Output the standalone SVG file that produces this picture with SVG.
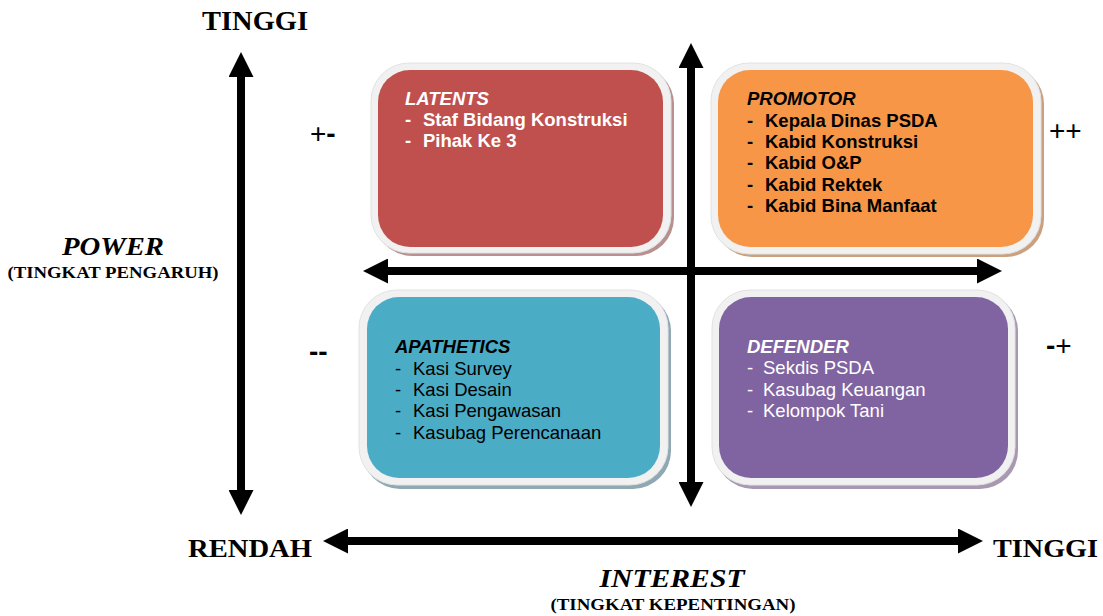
<svg xmlns="http://www.w3.org/2000/svg" width="1103" height="616" viewBox="0 0 1103 616">
  <style>
    .frame { fill: #f1f1f1; stroke: #e2e2e2; stroke-width: 1; }
    .box-title { font-family: "Liberation Sans", Arial, sans-serif; font-size: 18.5px; font-weight: bold; font-style: italic; }
    .item-b { font-family: "Liberation Sans", Arial, sans-serif; font-size: 18.5px; font-weight: bold; }
    .item-r { font-family: "Liberation Sans", Arial, sans-serif; font-size: 18.5px; }
    .white { fill: #ffffff; }
    .black { fill: #000000; }
    .axis { font-family: "Liberation Serif", "Times New Roman", serif; font-weight: bold; fill: #000; }
    .sign { font-family: "Liberation Sans", Arial, sans-serif; font-size: 28px; fill: #000; }
    .arrow { stroke: #000; stroke-width: 8; fill: none; marker-start: url(#head); marker-end: url(#head); }
  </style>
  <defs>
    <marker id="head" markerUnits="userSpaceOnUse" markerWidth="25" markerHeight="25" viewBox="0 0 25 25" refX="0" refY="12.5" orient="auto-start-reverse">
      <path d="M0,0 L25,12.5 L0,25 z" fill="#000"/>
    </marker>
  </defs>
  <rect width="1103" height="616" fill="#ffffff"/>

  <g id="latents">
    <rect x="374" y="66" width="300" height="190" rx="38" fill="#b89090"/>
    <rect class="frame" x="371" y="63" width="300" height="190" rx="38"/>
    <rect x="378" y="70" width="285" height="177" rx="32" fill="#c0504d"/>
    <text class="box-title white" x="405" y="105">LATENTS</text>
    <text class="item-b white" x="405" y="126">-</text>
    <text class="item-b white" x="423" y="126">Staf Bidang Konstruksi</text>
    <text class="item-b white" x="405" y="147">-</text>
    <text class="item-b white" x="423" y="147">Pihak Ke 3</text>
  </g>

  <g id="promotor">
    <rect x="714" y="66" width="330" height="191" rx="38" fill="#caa07e"/>
    <rect class="frame" x="711" y="63" width="330" height="191" rx="38"/>
    <rect x="718" y="70" width="315" height="177" rx="32" fill="#f79646"/>
    <text class="box-title black" x="747" y="105">PROMOTOR</text>
    <text class="item-b black" x="747" y="126.5">-</text>
    <text class="item-b black" x="765" y="126.5">Kepala Dinas PSDA</text>
    <text class="item-b black" x="747" y="148">-</text>
    <text class="item-b black" x="765" y="148">Kabid Konstruksi</text>
    <text class="item-b black" x="747" y="169">-</text>
    <text class="item-b black" x="765" y="169">Kabid O&amp;P</text>
    <text class="item-b black" x="747" y="190.5">-</text>
    <text class="item-b black" x="765" y="190.5">Kabid Rektek</text>
    <text class="item-b black" x="747" y="212">-</text>
    <text class="item-b black" x="765" y="212">Kabid Bina Manfaat</text>
  </g>

  <g id="apathetics">
    <rect x="362" y="293" width="309" height="196" rx="38" fill="#8fa8b2"/>
    <rect class="frame" x="359" y="290" width="309" height="195" rx="38"/>
    <rect x="367" y="297" width="293" height="181" rx="32" fill="#4bacc6"/>
    <text class="box-title black" x="395" y="353">APATHETICS</text>
    <text class="item-r black" x="395" y="375">-</text>
    <text class="item-r black" x="413" y="375">Kasi Survey</text>
    <text class="item-r black" x="395" y="396">-</text>
    <text class="item-r black" x="413" y="396">Kasi Desain</text>
    <text class="item-r black" x="395" y="417">-</text>
    <text class="item-r black" x="413" y="417">Kasi Pengawasan</text>
    <text class="item-r black" x="395" y="439">-</text>
    <text class="item-r black" x="413" y="439">Kasubag Perencanaan</text>
  </g>

  <g id="defender">
    <rect x="715" y="293" width="303" height="196" rx="38" fill="#a898b2"/>
    <rect class="frame" x="712" y="290" width="303" height="195" rx="38"/>
    <rect x="719" y="297" width="289" height="181" rx="32" fill="#8064a2"/>
    <text class="box-title white" x="747" y="353">DEFENDER</text>
    <text class="item-r white" x="747" y="374">-</text>
    <text class="item-r white" x="763" y="374">Sekdis PSDA</text>
    <text class="item-r white" x="747" y="396">-</text>
    <text class="item-r white" x="763" y="396">Kasubag Keuangan</text>
    <text class="item-r white" x="747" y="417">-</text>
    <text class="item-r white" x="763" y="417">Kelompok Tani</text>
  </g>

  <g id="connectors">
    <line class="arrow" x1="241" y1="77" x2="241" y2="490"/>
    <line class="arrow" x1="348" y1="541" x2="958" y2="541"/>
    <line class="arrow" x1="691" y1="68" x2="691" y2="482"/>
    <line class="arrow" x1="388" y1="271" x2="977" y2="271"/>
  </g>

  <g id="labels">
    <text class="axis" x="255" y="30" font-size="27" text-anchor="middle" textLength="106" lengthAdjust="spacingAndGlyphs">TINGGI</text>
    <text class="axis" x="113" y="255" font-size="26" font-style="italic" text-anchor="middle" textLength="102" lengthAdjust="spacingAndGlyphs">POWER</text>
    <text class="axis" x="113" y="278" font-size="16" text-anchor="middle" textLength="211" lengthAdjust="spacingAndGlyphs">(TINGKAT PENGARUH)</text>
    <text class="axis" x="188" y="557" font-size="26" textLength="124" lengthAdjust="spacingAndGlyphs">RENDAH</text>
    <text class="axis" x="993" y="557" font-size="26" textLength="105" lengthAdjust="spacingAndGlyphs">TINGGI</text>
    <text class="axis" x="672" y="587" font-size="26" font-style="italic" text-anchor="middle" textLength="145" lengthAdjust="spacingAndGlyphs">INTEREST</text>
    <text class="axis" x="673" y="610" font-size="16" text-anchor="middle" textLength="245" lengthAdjust="spacingAndGlyphs">(TINGKAT KEPENTINGAN)</text>
    <text class="sign" x="310" y="143">+<tspan font-weight="bold">-</tspan></text>
    <text class="sign" x="1049" y="140">++</text>
    <text class="sign" x="309" y="361" font-weight="bold">--</text>
    <text class="sign" x="1046" y="355"><tspan font-weight="bold">-</tspan>+</text>
  </g>
</svg>
